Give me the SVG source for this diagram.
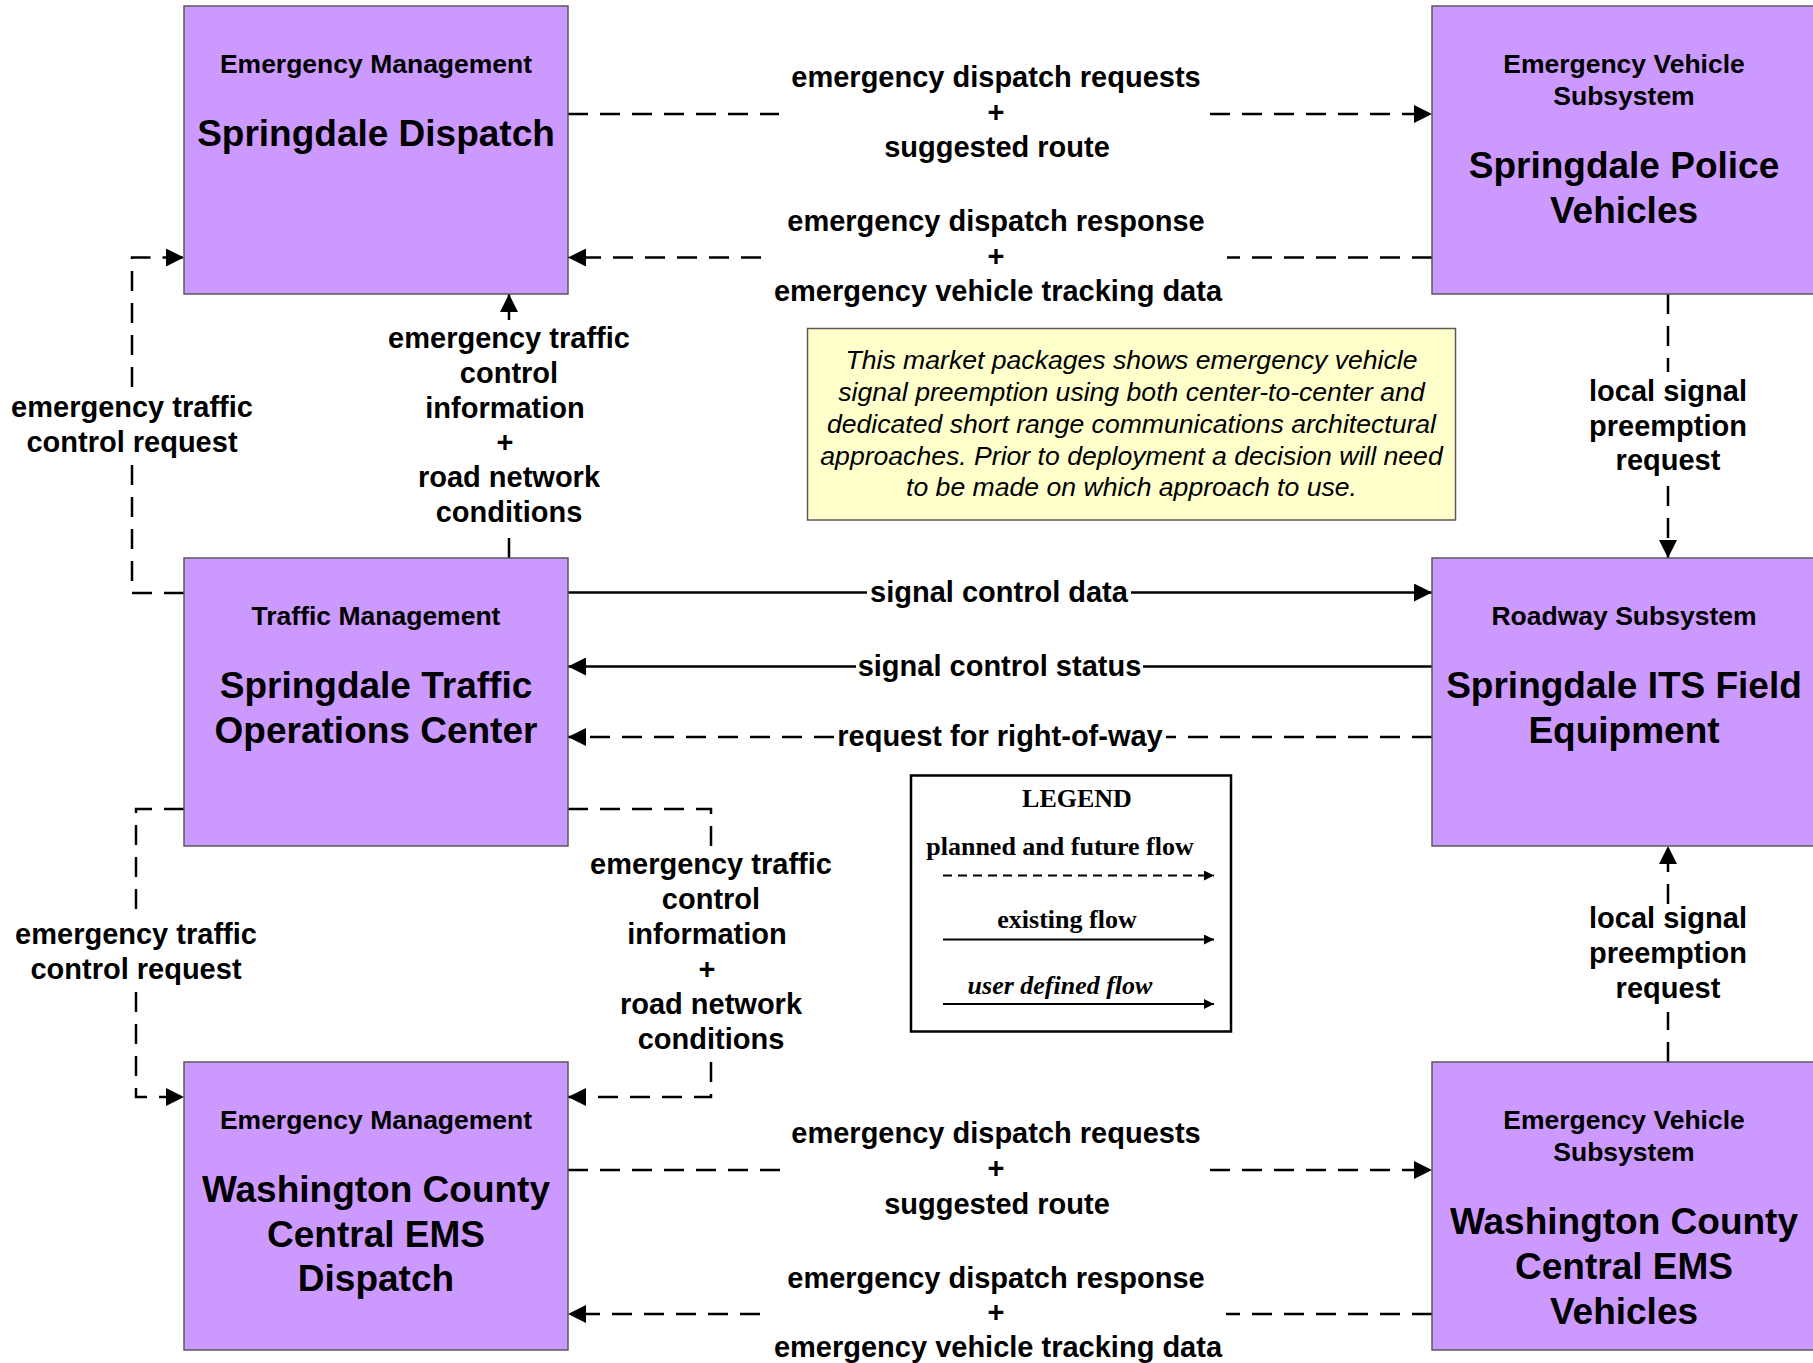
<svg xmlns="http://www.w3.org/2000/svg" width="1813" height="1363" viewBox="0 0 1813 1363">
<style>
  .box { fill:#CC99FF; stroke:#5a5a5a; stroke-width:1.5; }
  .sub { font-family:"Liberation Sans", Arial, sans-serif; font-weight:bold; font-size:26.5px; text-anchor:middle; fill:#000; }
  .ttl { font-family:"Liberation Sans", Arial, sans-serif; font-weight:bold; font-size:37px; text-anchor:middle; fill:#000; }
  .lbl { font-family:"Liberation Sans", Arial, sans-serif; font-weight:bold; font-size:29px; text-anchor:middle; fill:#000; }
  .note { font-family:"Liberation Sans", Arial, sans-serif; font-style:italic; font-size:26.6px; text-anchor:middle; fill:#000; }
  .leg { font-family:"Liberation Serif", "Times New Roman", serif; font-weight:bold; font-size:26px; text-anchor:middle; fill:#000; }
  .flow { fill:none; stroke:#000; stroke-width:2.5; }
  .dash { stroke-dasharray:20 12; }
  .lflow { fill:none; stroke:#000; stroke-width:2; }
</style>
<defs>
  <marker id="arr" markerUnits="userSpaceOnUse" markerWidth="18" markerHeight="18" refX="18" refY="9" orient="auto">
    <path d="M0,0 L18,9 L0,18 z" fill="#000"/>
  </marker>
  <marker id="sarr" markerUnits="userSpaceOnUse" markerWidth="10" markerHeight="10" refX="10" refY="5" orient="auto">
    <path d="M0,0 L10,5 L0,10 z" fill="#000"/>
  </marker>
</defs>
<rect width="1813" height="1363" fill="#fff"/>

<g id="connectors">
  <!-- Dispatch -> Police -->
  <path class="flow dash" d="M568,114 H779"/>
  <path class="flow dash" d="M1210,114 H1432" marker-end="url(#arr)"/>
  <text class="lbl" x="996" y="87">emergency dispatch requests</text>
  <text class="lbl" x="996" y="122">+</text>
  <text class="lbl" x="997" y="157">suggested route</text>
  <!-- Police -> Dispatch -->
  <path class="flow dash" d="M1432,257.5 H1227"/>
  <path class="flow dash" d="M761,257.5 H568" marker-end="url(#arr)"/>
  <text class="lbl" x="996" y="231">emergency dispatch response</text>
  <text class="lbl" x="996" y="266">+</text>
  <text class="lbl" x="998" y="301">emergency vehicle tracking data</text>

  <!-- Traffic -> Dispatch (left) -->
  <path class="flow dash" d="M184,593 H132 V462"/>
  <path class="flow dash" d="M132,387 V257.5 H184" marker-end="url(#arr)"/>
  <text class="lbl" x="132" y="417">emergency traffic</text>
  <text class="lbl" x="132" y="452">control request</text>

  <!-- Traffic -> Dispatch (middle up) -->
  <path class="flow dash" d="M509,558 V533"/>
  <path class="flow" d="M509,320 V294" marker-end="url(#arr)"/>
  <text class="lbl" x="509" y="348">emergency traffic</text>
  <text class="lbl" x="509" y="383">control</text>
  <text class="lbl" x="505" y="418">information</text>
  <text class="lbl" x="505" y="452">+</text>
  <text class="lbl" x="509" y="487">road network</text>
  <text class="lbl" x="509" y="522">conditions</text>

  <!-- Police -> ITS -->
  <path class="flow dash" d="M1668,294 V372"/>
  <path class="flow dash" d="M1668,486 V558" marker-end="url(#arr)"/>
  <text class="lbl" x="1668" y="401">local signal</text>
  <text class="lbl" x="1668" y="436">preemption</text>
  <text class="lbl" x="1668" y="470">request</text>

  <!-- Traffic -> ITS signal control data -->
  <path class="flow" d="M568,592.5 H867"/>
  <path class="flow" d="M1131,592.5 H1432" marker-end="url(#arr)"/>
  <text class="lbl" x="999" y="602">signal control data</text>
  <!-- ITS -> Traffic signal control status -->
  <path class="flow" d="M1432,666.5 H1143"/>
  <path class="flow" d="M856,666.5 H568" marker-end="url(#arr)"/>
  <text class="lbl" x="999.5" y="676">signal control status</text>
  <!-- ITS -> Traffic request for right-of-way -->
  <path class="flow dash" d="M1432,737 H1166"/>
  <path class="flow dash" d="M834,737 H568" marker-end="url(#arr)"/>
  <text class="lbl" x="1000" y="746">request for right-of-way</text>

  <!-- Traffic -> WC Dispatch (left) -->
  <path class="flow dash" d="M184,809 H136 V911"/>
  <path class="flow dash" d="M136,992 V1097 H184" marker-end="url(#arr)"/>
  <text class="lbl" x="136" y="944">emergency traffic</text>
  <text class="lbl" x="136" y="979">control request</text>

  <!-- Traffic -> WC Dispatch (middle) -->
  <path class="flow dash" d="M568,809 H711 V848"/>
  <path class="flow dash" d="M711,1062 V1097 H568" marker-end="url(#arr)"/>
  <text class="lbl" x="711" y="874">emergency traffic</text>
  <text class="lbl" x="711" y="909">control</text>
  <text class="lbl" x="707" y="944">information</text>
  <text class="lbl" x="707" y="979">+</text>
  <text class="lbl" x="711" y="1014">road network</text>
  <text class="lbl" x="711" y="1049">conditions</text>

  <!-- WC Vehicles -> ITS -->
  <path class="flow dash" d="M1668,1062 V1012"/>
  <path class="flow dash" d="M1668,904 V846" marker-end="url(#arr)"/>
  <text class="lbl" x="1668" y="928">local signal</text>
  <text class="lbl" x="1668" y="963">preemption</text>
  <text class="lbl" x="1668" y="998">request</text>

  <!-- WC Dispatch -> WC Vehicles -->
  <path class="flow dash" d="M568,1170 H780"/>
  <path class="flow dash" d="M1210,1170 H1432" marker-end="url(#arr)"/>
  <text class="lbl" x="996" y="1143">emergency dispatch requests</text>
  <text class="lbl" x="996" y="1178">+</text>
  <text class="lbl" x="997" y="1214">suggested route</text>
  <!-- WC Vehicles -> WC Dispatch -->
  <path class="flow dash" d="M1432,1314 H1226"/>
  <path class="flow dash" d="M760,1314 H568" marker-end="url(#arr)"/>
  <text class="lbl" x="996" y="1288">emergency dispatch response</text>
  <text class="lbl" x="996" y="1322">+</text>
  <text class="lbl" x="998" y="1357">emergency vehicle tracking data</text>
</g>

<g id="springdale-dispatch">
  <rect class="box" x="184" y="6" width="384" height="288"/>
  <text class="sub" x="376" y="73">Emergency Management</text>
  <text class="ttl" x="376" y="146">Springdale Dispatch</text>
</g>

<g id="springdale-police-vehicles">
  <rect class="box" x="1432" y="6" width="384" height="288"/>
  <text class="sub" x="1624" y="73">Emergency Vehicle</text>
  <text class="sub" x="1624" y="104.5">Subsystem</text>
  <text class="ttl" x="1624" y="177.5">Springdale Police</text>
  <text class="ttl" x="1624" y="222.5">Vehicles</text>
</g>

<g id="springdale-traffic-operations-center">
  <rect class="box" x="184" y="558" width="384" height="288"/>
  <text class="sub" x="376" y="625">Traffic Management</text>
  <text class="ttl" x="376" y="697.5">Springdale Traffic</text>
  <text class="ttl" x="376" y="742.5">Operations Center</text>
</g>

<g id="springdale-its-field-equipment">
  <rect class="box" x="1432" y="558" width="384" height="288"/>
  <text class="sub" x="1624" y="625">Roadway Subsystem</text>
  <text class="ttl" x="1624" y="697.5">Springdale ITS Field</text>
  <text class="ttl" x="1624" y="742.5">Equipment</text>
</g>

<g id="wc-central-ems-dispatch">
  <rect class="box" x="184" y="1062" width="384" height="288"/>
  <text class="sub" x="376" y="1129">Emergency Management</text>
  <text class="ttl" x="376" y="1202">Washington County</text>
  <text class="ttl" x="376" y="1246.5">Central EMS</text>
  <text class="ttl" x="376" y="1291">Dispatch</text>
</g>

<g id="wc-central-ems-vehicles">
  <rect class="box" x="1432" y="1062" width="384" height="288"/>
  <text class="sub" x="1624" y="1129">Emergency Vehicle</text>
  <text class="sub" x="1624" y="1160.5">Subsystem</text>
  <text class="ttl" x="1624" y="1233.5">Washington County</text>
  <text class="ttl" x="1624" y="1278.5">Central EMS</text>
  <text class="ttl" x="1624" y="1323.5">Vehicles</text>
</g>

<g id="note">
  <rect x="807.5" y="328.5" width="648" height="191.5" fill="#FFFFCC" stroke="#5a5a5a" stroke-width="1.5"/>
  <text class="note" x="1131.5" y="369">This market packages shows emergency vehicle</text>
  <text class="note" x="1131.5" y="401">signal preemption using both center-to-center and</text>
  <text class="note" x="1131.5" y="432.5">dedicated short range communications architectural</text>
  <text class="note" x="1131.5" y="464.5">approaches. Prior to deployment a decision will need</text>
  <text class="note" x="1131.5" y="496">to be made on which approach to use.</text>
</g>

<g id="legend">
  <rect x="911" y="775.5" width="320" height="256" fill="#fff" stroke="#000" stroke-width="2.5"/>
  <text class="leg" x="1077" y="807">LEGEND</text>
  <text class="leg" x="1060" y="855">planned and future flow</text>
  <path class="lflow" d="M943,875.5 H1214" stroke-dasharray="9 6" marker-end="url(#sarr)"/>
  <text class="leg" x="1067" y="928">existing flow</text>
  <path class="lflow" d="M943,939.5 H1214" marker-end="url(#sarr)"/>
  <text class="leg" x="1060" y="994" font-style="italic">user defined flow</text>
  <path class="lflow" d="M943,1004 H1214" marker-end="url(#sarr)"/>
</g>
</svg>
